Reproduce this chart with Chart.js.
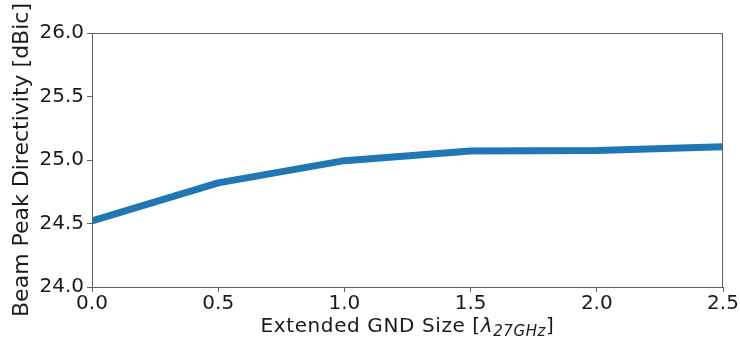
<!DOCTYPE html>
<html>
<head>
<meta charset="utf-8">
<script src="https://cdn.jsdelivr.net/npm/chart.js@4/dist/chart.umd.min.js"></script>
<style>
  html, body { margin: 0; padding: 0; background: #fff; }
  #wrap { width: 740px; height: 340px; }
</style>
</head>
<body>
<div id="wrap"><canvas id="c" width="740" height="340"></canvas></div>
<script>
// Extended ground size (in wavelengths at 27 GHz) and beam peak directivity (dBic)
const gndSize = [0.0, 0.5, 1.0, 1.5, 2.0, 2.5];
const directivity = [24.52, 24.82, 24.995, 25.07, 25.075, 25.105];
const xTicks = [0.0, 0.5, 1.0, 1.5, 2.0, 2.5];
const yTicks = [24.0, 24.5, 25.0, 25.5, 26.0];

const FONT = "'DejaVu Sans', sans-serif";
const TEXT = '#1a1a1a';
const SPINE = '#606060';

// Frame around the plot area plus the x-axis title with a subscripted lambda
const framePlugin = {
  id: 'frame',
  afterDraw(chart) {
    const { ctx, chartArea: a } = chart;
    ctx.save();
    ctx.strokeStyle = SPINE;
    ctx.lineWidth = 1;
    ctx.strokeRect(Math.round(a.left) + 0.5, Math.round(a.top) + 0.5,
                   Math.round(a.right - a.left) - 1, Math.round(a.bottom - a.top));

    // x-axis title: "Extended GND Size [" + italic λ + subscript "27GHz" + "]"
    const parts = [
      { t: 'Extended GND Size [', f: '20px ' + FONT, dy: 0 },
      { t: 'λ', f: 'italic 20px ' + FONT, dy: 0 },
      { t: '27GHz', f: 'italic 15px ' + FONT, dy: 4 },
      { t: ']', f: '20px ' + FONT, dy: 0 }
    ];
    ctx.letterSpacing = '0.6px';
    let total = 0;
    parts.forEach(p => { ctx.font = p.f; p.w = ctx.measureText(p.t).width; total += p.w; });
    let x = (a.left + a.right) / 2 - total / 2;
    const base = 332;
    ctx.fillStyle = TEXT;
    ctx.textBaseline = 'alphabetic';
    ctx.textAlign = 'left';
    parts.forEach(p => {
      ctx.font = p.f;
      ctx.fillText(p.t, x, base + p.dy);
      x += p.w;
    });
    ctx.restore();
  }
};

new Chart(document.getElementById('c'), {
  type: 'line',
  data: {
    datasets: [{
      data: gndSize.map((g, i) => ({ x: g, y: directivity[i] })),
      borderColor: '#1f77b4',
      borderWidth: 7,
      pointRadius: 0,
      tension: 0,
      fill: false,
      borderCapStyle: 'butt',
      borderJoinStyle: 'round'
    }]
  },
  options: {
    responsive: false,
    animation: false,
    devicePixelRatio: 1,
    layout: { padding: { top: 33, right: 17, left: 0, bottom: 0 } },
    plugins: { legend: { display: false }, tooltip: { enabled: false } },
    scales: {
      x: {
        type: 'linear',
        min: 0, max: 2.5,
        afterBuildTicks(s) { s.ticks = xTicks.map(v => ({ value: v })); },
        afterFit(s) { s.height = 340 - 287; },
        border: { display: false },
        grid: { drawOnChartArea: false, drawTicks: true, tickLength: 5, color: SPINE },
        ticks: {
          padding: 0,
          color: TEXT,
          font: { family: FONT, size: 20 },
          maxRotation: 0,
          callback: v => Number(v).toFixed(1)
        }
      },
      y: {
        min: 24, max: 26,
        afterBuildTicks(s) { s.ticks = yTicks.map(v => ({ value: v })); },
        afterFit(s) { s.width = 92; },
        border: { display: false },
        grid: { drawOnChartArea: false, drawTicks: true, tickLength: 5, color: SPINE },
        title: {
          display: true,
          text: 'Beam Peak Directivity [dBic]',
          color: TEXT,
          font: { family: FONT, size: 22 },
          padding: { top: 9, bottom: 0 }
        },
        ticks: {
          padding: 3,
          color: TEXT,
          font: { family: FONT, size: 20 },
          callback: v => Number(v).toFixed(1)
        }
      }
    }
  },
  plugins: [framePlugin]
});
</script>
</body>
</html>
